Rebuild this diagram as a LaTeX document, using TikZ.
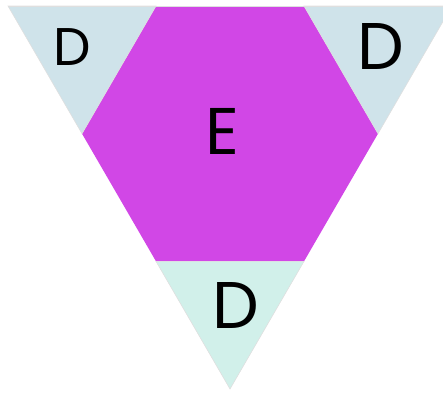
\documentclass[tikz,border=0pt]{standalone}
\usepackage{fontspec}
\setmainfont{Poppins}
\usetikzlibrary{calc}
\definecolor{hexmag}{RGB}{209,71,230}
\definecolor{cornblue}{RGB}{207,227,234}
\definecolor{cornmint}{RGB}{209,240,234}

\begin{document}
\begin{tikzpicture}[x=1pt, y=-1pt, part/.style = {draw=gray!25, line width=0.6pt}, lbl/.style = {inner sep=0pt, font=\fontsize{66}{66}\selectfont}]
            \useasboundingbox (0,0) rectangle (443,392);
            \clip (0,0) rectangle (443,392);
            \coordinate (a) at (8,6);
            \coordinate (b) at (452,6);
            \coordinate (c) at (230,389);
            \coordinate (ab1) at ($(a)!1/3!(b)$);
            \coordinate (ab2) at ($(a)!2/3!(b)$);
            \coordinate (bc1) at ($(b)!1/3!(c)$);
            \coordinate (bc2) at ($(b)!2/3!(c)$);
            \coordinate (ca1) at ($(c)!1/3!(a)$);
            \coordinate (ca2) at ($(c)!2/3!(a)$);
            \fill[hexmag] (ab1) -- (ab2) -- (bc1) -- (bc2) -- (ca1) -- (ca2) -- cycle;
            \filldraw[part, fill=cornblue] (a) -- (ab1) -- (ca2) -- cycle;
            \filldraw[part, fill=cornblue] (b) -- (bc1) -- (ab2) -- cycle;
            \filldraw[part, fill=cornmint] (c) -- (ca1) -- (bc2) -- cycle;
            \draw[part] (a) -- (b);
            \node[lbl, font=\fontsize{53}{53}\selectfont] (dl) at (72,47) {D};
            \node[lbl] (dr) at (381,46) {D};
            \node[lbl] (db) at (236,305) {D};
            \node[lbl] (e) at (222,131) {E};
\end{tikzpicture}
\end{document}
